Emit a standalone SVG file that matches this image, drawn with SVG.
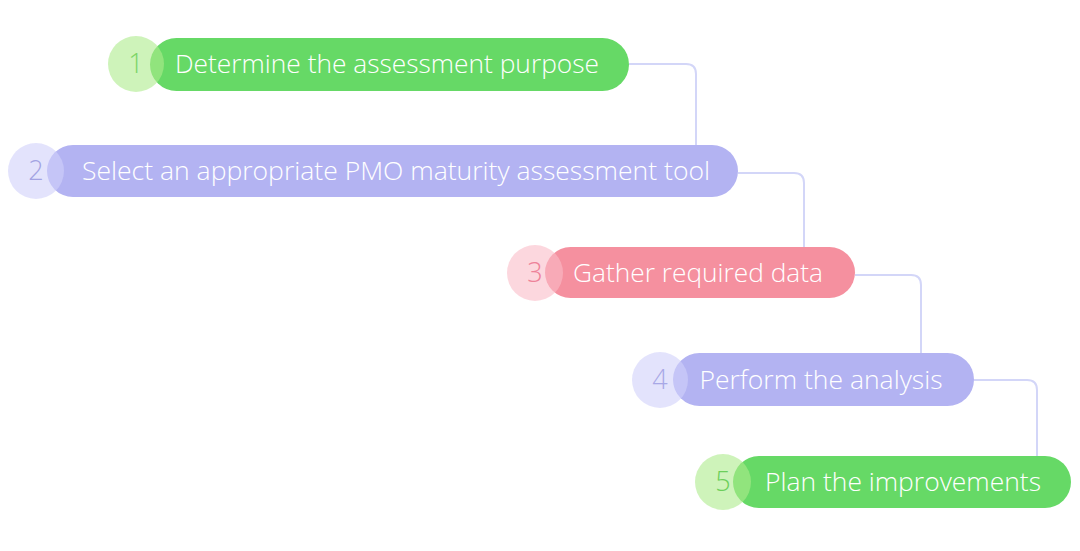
<svg xmlns="http://www.w3.org/2000/svg" width="1080" height="551" viewBox="0 0 1080 551">
  <style>
    .conn { fill: none; stroke: #D3D6F8; stroke-width: 2; }
    .label { font-family: "Open Sans", "Lato", "Liberation Sans", sans-serif; font-size: 26px; font-weight: 300; fill: #FFFFFF; text-anchor: middle; }
    .num { font-family: "Open Sans", "Lato", "Liberation Sans", sans-serif; font-size: 27px; font-weight: 300; text-anchor: middle; }
    .pill-green { fill: #66D966; }
    .pill-purple { fill: #B3B3F2; }
    .pill-pink { fill: #F5909F; }
    .dot-green { fill: #AEEB8C; opacity: 0.6; }
    .dot-purple { fill: #D0D0FA; opacity: 0.6; }
    .dot-pink { fill: #FABCC8; opacity: 0.6; }
  </style>
  <rect width="1080" height="551" fill="#FFFFFF"/>
  <g id="connectors">
    <path class="conn" d="M629,64 H686 Q696,64 696,74 V146"/>
    <path class="conn" d="M738,173 H794 Q804,173 804,183 V248"/>
    <path class="conn" d="M855,275 H911 Q921,275 921,285 V353"/>
    <path class="conn" d="M974,380 H1027 Q1037,380 1037,390 V457"/>
  </g>
  <g id="step1">
    <rect class="pill-green" x="150" y="38" width="479" height="53" rx="26.5"/>
    <circle class="dot-green" cx="136" cy="64" r="28"/>
    <text class="num" x="136" y="73" fill="#7CD567">1</text>
    <text class="label" x="387" y="73" textLength="424" lengthAdjust="spacingAndGlyphs">Determine the assessment purpose</text>
  </g>
  <g id="step2">
    <rect class="pill-purple" x="47" y="145" width="691" height="52" rx="26"/>
    <circle class="dot-purple" cx="36" cy="171" r="28"/>
    <text class="num" x="36" y="180" fill="#A3A3E3">2</text>
    <text class="label" x="396" y="180" textLength="628" lengthAdjust="spacingAndGlyphs">Select an appropriate PMO maturity assessment tool</text>
  </g>
  <g id="step3">
    <rect class="pill-pink" x="545" y="247" width="310" height="51" rx="25.5"/>
    <circle class="dot-pink" cx="535" cy="273" r="28"/>
    <text class="num" x="535" y="282" fill="#EE8299">3</text>
    <text class="label" x="698" y="282" textLength="250" lengthAdjust="spacingAndGlyphs">Gather required data</text>
  </g>
  <g id="step4">
    <rect class="pill-purple" x="673" y="353" width="301" height="53" rx="26.5"/>
    <circle class="dot-purple" cx="660" cy="380" r="28"/>
    <text class="num" x="660" y="389" fill="#A8A8E6">4</text>
    <text class="label" x="821" y="389" textLength="243" lengthAdjust="spacingAndGlyphs">Perform the analysis</text>
  </g>
  <g id="step5">
    <rect class="pill-green" x="733" y="456" width="338" height="52" rx="26"/>
    <circle class="dot-green" cx="723" cy="482" r="28"/>
    <text class="num" x="723" y="491" fill="#6CCF5A">5</text>
    <text class="label" x="903" y="491" textLength="276" lengthAdjust="spacingAndGlyphs">Plan the improvements</text>
  </g>
</svg>
